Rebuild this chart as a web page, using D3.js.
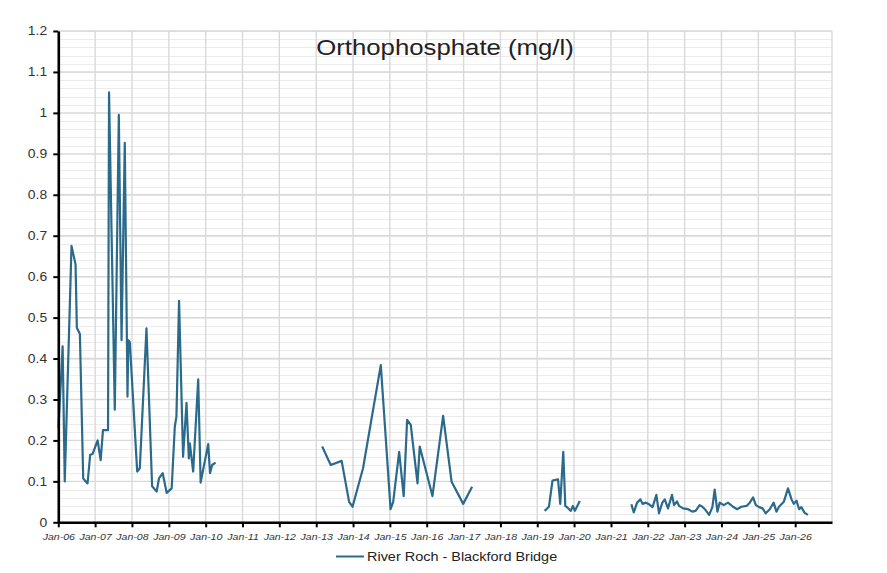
<!DOCTYPE html>
<html>
<head>
<meta charset="utf-8">
<script src="https://cdn.jsdelivr.net/npm/d3@7"></script>
<style>
  html, body { margin: 0; padding: 0; background: #fff; }
  svg { display: block; font-family: "Liberation Sans", Arial, sans-serif; }
</style>
</head>
<body>
<svg id="chart" width="887" height="573"></svg>
<script>
// ---- data (null value = gap in the record) ----
const sampleDates = [
  "2006-01-03","2006-02-13","2006-03-06","2006-05-12","2006-06-21","2006-07-04","2006-08-03","2006-09-05",
  "2006-10-18","2006-11-13","2006-12-07","2007-01-26","2007-02-25","2007-03-20","2007-05-09","2007-05-19",
  "2007-07-15","2007-08-24","2007-09-20","2007-10-22","2007-11-18","2007-11-26","2007-12-11","2008-02-22",
  "2008-03-19","2008-05-24","2008-07-19","2008-09-02","2008-09-25","2008-11-01","2008-12-10","2009-01-29",
  "2009-03-01","2009-03-17","2009-04-12","2009-05-22","2009-06-25","2009-07-18","2009-07-28","2009-08-30",
  "2009-10-19","2009-11-12","2010-01-26","2010-02-13","2010-03-06","2010-04-09",
  "2011-06-01",
  "2013-03-01","2013-05-25","2013-09-10","2013-11-23","2013-12-27","2014-04-10","2014-10-03","2015-01-08",
  "2015-02-03","2015-04-03","2015-05-18","2015-06-21","2015-07-27","2015-10-02","2015-10-24","2016-02-27",
  "2016-06-12","2016-09-04","2016-12-28","2017-03-26",
  "2018-06-01",
  "2019-03-15","2019-04-27","2019-06-01","2019-07-26","2019-08-17","2019-09-01","2019-09-16","2019-10-06",
  "2019-10-31","2019-11-30","2019-12-20","2020-01-09","2020-02-27",
  "2020-09-01",
  "2021-07-22","2021-08-15","2021-09-17","2021-10-20","2021-11-10","2021-12-12","2022-01-14","2022-02-17",
  "2022-03-27","2022-04-22","2022-05-25","2022-06-18","2022-07-20","2022-08-29","2022-09-18","2022-10-17",
  "2022-11-07","2022-12-16","2023-02-05","2023-03-18","2023-04-20","2023-05-30","2023-06-26","2023-07-28",
  "2023-09-01","2023-10-03","2023-10-26","2023-11-22","2023-12-15","2024-01-24","2024-03-06","2024-04-25",
  "2024-06-04","2024-07-17","2024-09-06","2024-10-08","2024-11-10","2024-12-07","2025-01-09","2025-02-12",
  "2025-03-15","2025-04-24","2025-06-02","2025-06-29","2025-07-25","2025-09-10","2025-10-22","2025-11-26",
  "2025-12-18","2026-01-14","2026-02-09","2026-03-03","2026-04-05","2026-05-08"
];
const orthophosphate = [
  0.23,0.43,0.10,0.675,0.63,0.475,0.46,0.107,
  0.095,0.165,0.167,0.20,0.152,0.225,0.225,1.05,
  0.275,0.995,0.445,0.927,0.307,0.445,0.44,0.124,
  0.132,0.474,0.088,0.075,0.107,0.12,0.072,0.083,
  0.234,0.258,0.541,0.16,0.292,0.156,0.193,0.124,
  0.349,0.097,0.191,0.12,0.14,0.146,
  null,
  0.185,0.14,0.15,0.05,0.038,0.132,0.384,0.032,
  0.05,0.172,0.064,0.25,0.238,0.095,0.185,0.064,
  0.26,0.099,0.045,0.087,
  null,
  0.028,0.038,0.102,0.105,0.045,0.11,0.172,0.04,
  0.035,0.028,0.04,0.028,0.052,
  null,
  0.044,0.024,0.048,0.056,0.045,0.048,0.044,0.037,
  0.067,0.022,0.048,0.056,0.034,0.067,0.042,0.051,
  0.040,0.034,0.032,0.026,0.028,0.042,0.038,0.030,
  0.018,0.037,0.080,0.026,0.048,0.042,0.048,0.038,
  0.032,0.038,0.040,0.048,0.061,0.042,0.037,0.034,
  0.022,0.032,0.048,0.026,0.038,0.050,0.083,0.056,
  0.045,0.053,0.032,0.037,0.023,0.018
];
const yTickValues = [0,0.1,0.2,0.3,0.4,0.5,0.6,0.7,0.8,0.9,1,1.1,1.2];
const chartTitle = "Orthophosphate (mg/l)";
const seriesName = "River Roch - Blackford Bridge";
const xStart = "2006-01-01", xEnd = "2027-01-01";

// ---- layout ----
const svg = d3.select("#chart");
const pLeft = 58.3, pRight = 832, pTop = 31, pBottom = 522.3;
const SX = 1.12; // horizontal stretch of text in reference
const lineColor = "#2c6a8b";
const parse = d3.timeParse("%Y-%m-%d");

const data = sampleDates.map((d, i) => ({ date: parse(d), v: orthophosphate[i] }));

const x = d3.scaleTime().domain([parse(xStart), parse(xEnd)]).range([pLeft, pRight]);
const y = d3.scaleLinear().domain([0, 1.2]).range([pBottom, pTop]);

// minor horizontal grid (every 0.02)
const minor = d3.range(0, 1.2001, 0.02);
svg.append("g").selectAll("line").data(minor).join("line")
  .attr("x1", pLeft).attr("x2", pRight)
  .attr("y1", d => Math.round(y(d)) + 0.5).attr("y2", d => Math.round(y(d)) + 0.5)
  .attr("stroke", "#ececec").attr("stroke-width", 1);

// major horizontal grid
svg.append("g").selectAll("line").data(yTickValues).join("line")
  .attr("x1", pLeft).attr("x2", pRight)
  .attr("y1", d => y(d)).attr("y2", d => y(d))
  .attr("stroke", "#d9d9d9").attr("stroke-width", 1.4);

// vertical grid (years)
const years = d3.timeYear.range(parse(xStart), d3.timeDay.offset(parse(xEnd), 1));
svg.append("g").selectAll("line").data(years).join("line")
  .attr("x1", d => x(d)).attr("x2", d => x(d))
  .attr("y1", pTop).attr("y2", pBottom)
  .attr("stroke", "#d9d9d9").attr("stroke-width", 1.4);

// title
svg.append("text")
  .attr("transform", `translate(445,55) scale(${SX},1)`)
  .attr("text-anchor", "middle")
  .attr("font-size", 23).attr("fill", "#222")
  .text(chartTitle);

// series line
const line = d3.line()
  .defined(d => d.v != null)
  .x(d => x(d.date)).y(d => y(d.v));
svg.append("path").datum(data)
  .attr("d", line)
  .attr("fill", "none").attr("stroke", lineColor)
  .attr("stroke-width", 2.2).attr("stroke-linejoin", "round");

// x axis
const xTicks = d3.timeYear.range(parse(xStart), parse("2026-06-01"));
const xAxis = svg.append("g").attr("transform", `translate(0,${pBottom})`)
  .call(d3.axisBottom(x).tickValues(xTicks).tickFormat(d3.timeFormat("%b-%y")).tickSizeInner(5).tickSizeOuter(0).tickPadding(6));
xAxis.select(".domain").attr("stroke", "#000").attr("stroke-width", 2.6);
xAxis.selectAll(".tick line").attr("stroke", "#000").attr("stroke-width", 2);
xAxis.selectAll(".tick text")
  .attr("font-size", 9.8).attr("font-style", "italic").attr("fill", "#333")
  .attr("font-family", "Liberation Sans, Arial, sans-serif")
  .attr("transform", `scale(1.08,1)`);

// y axis
const yAxis = svg.append("g").attr("transform", `translate(${pLeft},0)`)
  .call(d3.axisLeft(y).tickValues(yTickValues).tickFormat(d => String(+d.toFixed(1))).tickSizeInner(5).tickSizeOuter(0).tickPadding(5));
yAxis.select(".domain").attr("stroke", "#000").attr("stroke-width", 2.6);
yAxis.selectAll(".tick line").attr("stroke", "#000").attr("stroke-width", 2);
yAxis.selectAll(".tick text")
  .attr("font-size", 12.4).attr("fill", "#333")
  .attr("font-family", "Liberation Sans, Arial, sans-serif")
  .attr("transform", `scale(${SX},1)`);

// legend
const lg = svg.append("g");
lg.append("line").attr("x1", 336).attr("x2", 364).attr("y1", 556.5).attr("y2", 556.5)
  .attr("stroke", lineColor).attr("stroke-width", 2);
lg.append("text")
  .attr("transform", `translate(367,561) scale(${SX},1)`)
  .attr("font-size", 12.9).attr("fill", "#222")
  .text(seriesName);
</script>
</body>
</html>
